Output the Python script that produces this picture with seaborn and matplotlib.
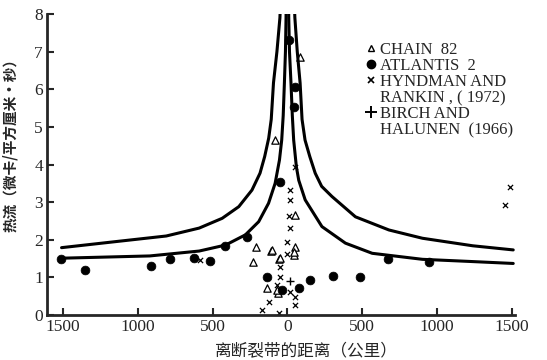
import pandas as pd
import matplotlib.pyplot as plt
import seaborn as sns
from matplotlib.lines import Line2D

sns.set_style('ticks')
plt.rcParams['font.family'] = ['Liberation Serif', 'Noto Sans CJK SC', 'DejaVu Sans']

# curves (signed distance from the fracture zone, km ; heat flow)
outer_left_x = [-1510, -1150, -810, -590, -436, -325, -237, -183, -152, -125, -108, -93, -70, -50, -44]
outer_left_y = [1.79, 1.95, 2.10, 2.31, 2.57, 2.88, 3.32, 3.77, 4.21, 4.70, 5.20, 6.17, 7.0, 7.9, 8.5]
outer_right_x = [44, 50, 66, 85, 98, 118, 150, 186, 229, 298, 455, 679, 903, 1239, 1510]
outer_right_y = [8.5, 7.9, 7.0, 6.17, 5.2, 4.65, 4.21, 3.77, 3.42, 3.15, 2.61, 2.26, 2.04, 1.84, 1.73]
inner_left_x = [-1510, -920, -590, -413, -281, -192, -126, -82, -53, -38, -28, -20, -13, -9, -8]
inner_left_y = [1.51, 1.57, 1.70, 1.86, 2.13, 2.48, 2.97, 3.50, 4.12, 4.65, 5.30, 6.17, 7.0, 7.9, 8.5]
inner_right_x = [8, 9, 14, 24, 33, 42, 60, 76, 119, 231, 388, 567, 903, 1239, 1510]
inner_right_y = [8.5, 7.9, 7.0, 6.17, 5.3, 4.65, 3.94, 3.58, 3.06, 2.35, 1.91, 1.64, 1.48, 1.42, 1.37]

# CHAIN 82
chain_x = [87, -80, 53, -213, -107, -227, -53, 47, 53, -60, -100, -47, -67, 47, -133]
chain_y = [6.86, 4.65, 2.66, 1.81, 1.70, 1.41, 1.49, 1.60, 1.81, 0.59, 1.73, 1.52, 0.66, 1.68, 0.72]
# ATLANTIS 2
atl_x = [-1513, -1353, -913, -787, -627, -520, -420, -273, -133, -47, -33, 80, 153, 307,
         487, 673, 947, 53, 47, 13]
atl_y = [1.49, 1.20, 1.30, 1.49, 1.52, 1.44, 1.83, 2.07, 1.01, 3.54, 0.66, 0.72, 0.93, 1.04,
         1.01, 1.49, 1.41, 6.06, 5.53, 7.3]
# HYNDMAN AND RANKIN (1972)
hr_x = [53, 20, 20, 13, 20, 0, 0, -47, -47, -67, 20, 53, -120, -167, -53, 53, -587, 1487, 1453]
hr_y = [3.94, 3.32, 3.06, 2.63, 2.31, 1.94, 1.62, 1.28, 1.01, 0.80, 0.61, 0.48, 0.35, 0.13,
        0.05, 0.27, 1.46, 3.40, 2.93]
# BIRCH AND HALUNEN (1966)
bh_x = [20]
bh_y = [0.90]

xticks = [-1500, -1000, -500, 0, 500, 1000, 1500]
xtick_labels = ['1500', '1000', '500', '0', '500', '1000', '1500']

fig = plt.figure(figsize=(5.47, 3.6), dpi=100)
ax = fig.add_axes([0.086, 0.125, 0.855, 0.836])

for cx, cy in [(outer_left_x, outer_left_y), (outer_right_x, outer_right_y),
               (inner_left_x, inner_left_y), (inner_right_x, inner_right_y)]:
    sns.lineplot(x=cx, y=cy, sort=False, color='black', linewidth=2.2, ax=ax,
                 solid_joinstyle='round', solid_capstyle='round')

sns.scatterplot(x=chain_x, y=chain_y, marker='^', s=28, facecolor='white',
                edgecolor='black', linewidth=0.9, ax=ax)
sns.scatterplot(x=atl_x, y=atl_y, marker='o', s=40, color='black', edgecolor='black', ax=ax)
sns.scatterplot(x=hr_x, y=hr_y, marker='x', s=14, color='black', linewidth=0.9, ax=ax)
sns.scatterplot(x=bh_x, y=bh_y, marker='+', s=30, color='black', linewidth=1.0, ax=ax)

ax.set_xlim(-1607, 1520)
ax.set_ylim(0, 8)
ax.set_xticks(xticks)
ax.set_xticklabels(xtick_labels)
ax.set_yticks(range(0, 9))
ax.tick_params(direction='in', length=5, width=1.5, labelsize=12.5, pad=3)
for s in ['top', 'right']:
    ax.spines[s].set_visible(False)
for s in ['left', 'bottom']:
    ax.spines[s].set_linewidth(2.0)

cjk = ['Noto Sans CJK SC', 'DejaVu Sans']
ax.set_xlabel('离断裂带的距离（公里）', fontsize=12, family=cjk)
ax.xaxis.set_label_coords(0.555, -0.095)
ax.set_ylabel('热流（微卡/平方厘米·秒）', fontsize=10.5, fontweight='bold', family=cjk)
ax.yaxis.set_label_coords(-0.062, 0.575)

blank = Line2D([], [], linestyle='', marker='')
handles = [
    Line2D([], [], marker='^', linestyle='', markerfacecolor='white', markeredgecolor='black', markersize=5),
    Line2D([], [], marker='o', linestyle='', color='black', markersize=6),
    Line2D([], [], marker='x', linestyle='', color='black', markersize=5, markeredgewidth=1.2),
    blank,
    Line2D([], [], marker='+', linestyle='', color='black', markersize=8, markeredgewidth=1.4),
    blank,
]
labels = ['CHAIN  82', 'ATLANTIS  2', 'HYNDMAN AND', 'RANKIN , ( 1972)', 'BIRCH AND', 'HALUNEN  (1966)']
ax.legend(handles, labels, loc='upper left', bbox_to_anchor=(0.66, 0.935), frameon=False,
          handletextpad=0.15, handlelength=0.8, labelspacing=0.0, borderpad=0,
          prop={'family': 'Liberation Serif', 'size': 12})

fig.savefig('out.png', dpi=100)
